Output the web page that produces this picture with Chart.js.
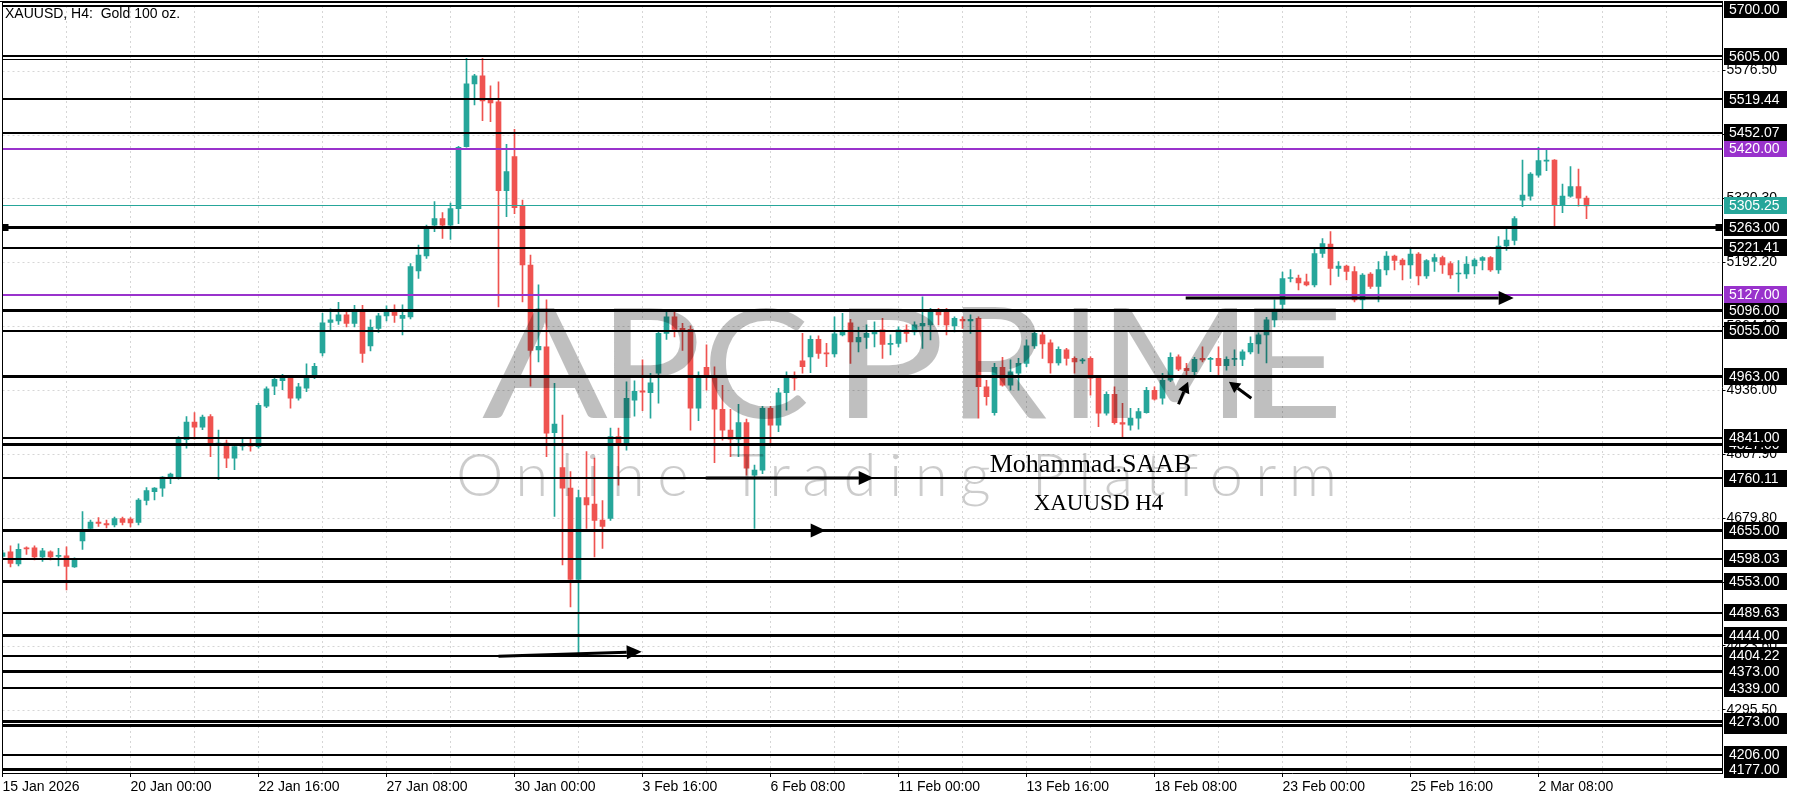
<!DOCTYPE html>
<html><head><meta charset="utf-8">
<script src="https://cdn.jsdelivr.net/npm/chart.js@4.4.1/dist/chart.umd.min.js"></script>
<style>html,body{margin:0;padding:0;background:#fff;}canvas{display:block;}</style>
</head><body>
<canvas id="c" width="1800" height="800"></canvas>
<script>
// ---------- DATA ----------
const chartTitle = 'XAUUSD, H4:  Gold 100 oz.';
const opens = [
4603,4612,4588,4620,4620,4602,4612,4603,4604,4582,
4634,4659,4672,4669,4666,4679,4678,4671,4715,4733,
4740,4763,4762,4837,4872,4862,4883,4828,4830,4800,
4824,4826,4823,4904,4944,4955,4962,4920,4940,4966,
5011,5072,5075,5087,5070,5098,5025,5060,5085,5097,
5080,5083,5175,5205,5267,5280,5267,5300,5424,5550,
5566,5518,5514,5336,5404,5305,5187,5017,5023,4851,
4781,4740,4557,4721,4708,4676,4679,4843,4828,4916,
4935,4931,4970,5050,5083,5060,5058,4900,4982,4962,
4898,4856,4838,4871,4766,4776,4900,4866,4931,4963,
4995,5003,5038,5011,5009,5047,5071,5033,5042,5049,
5057,5028,5030,5057,5053,5065,5067,5095,5097,5065,
5078,5075,5080,4943,4891,4982,4946,4970,4990,5025,
5047,5031,4991,5017,5000,4995,5000,4960,4890,4928,
4871,4866,4880,4891,4936,4920,4956,5003,4980,4973,
5000,4998,5000,4985,4998,4998,5013,5029,5047,5077,
5108,5160,5161,5153,5147,5210,5229,5180,5185,5174,
5117,5169,5144,5177,5205,5197,5187,5209,5165,5194,
5202,5190,5169,5169,5185,5196,5202,5177,5225,5236,
5317,5325,5367,5395,5397,5307,5325,5344,5321];
const highs = [
4615,4624,4628,4622,4624,4619,4614,4619,4622,4600,
4693,4676,4681,4676,4682,4682,4681,4719,4741,4741,
4763,4770,4843,4883,4891,4886,4887,4856,4836,4826,
4840,4838,4910,4943,4965,4968,4966,4950,4989,4990,
5090,5099,5112,5093,5106,5106,5077,5090,5105,5107,
5107,5190,5227,5267,5314,5292,5311,5425,5601,5569,
5601,5546,5554,5429,5459,5317,5207,5147,5117,4950,
4886,4773,4736,4813,4800,4715,4860,4860,4953,4955,
4997,4970,5055,5093,5095,5070,5065,4973,5027,4983,
4946,4898,4908,4878,4786,4904,4904,4940,4973,4973,
5050,5045,5045,5030,5083,5090,5078,5062,5067,5073,
5080,5047,5063,5067,5073,5123,5100,5100,5100,5083,
5083,5087,5083,4956,4990,5002,4997,5000,5037,5053,
5053,5037,5023,5020,5003,5000,5003,4963,4933,4943,
4910,4900,4900,4942,4943,4970,5011,5007,4990,5002,
5023,5002,5023,5003,5017,5017,5043,5051,5082,5117,
5173,5178,5167,5169,5220,5240,5254,5194,5187,5184,
5170,5172,5194,5214,5207,5200,5222,5212,5198,5209,
5205,5194,5196,5204,5200,5204,5204,5244,5263,5284,
5397,5372,5423,5419,5398,5349,5384,5379,5325];
const lows = [
4598,4582,4584,4607,4596,4593,4596,4584,4536,4581,
4617,4657,4663,4660,4662,4666,4662,4666,4706,4716,
4723,4749,4758,4820,4838,4857,4803,4757,4781,4777,
4816,4814,4820,4901,4927,4937,4900,4916,4933,4959,
5005,5056,5068,5063,5063,4992,5015,5052,5075,5072,
5047,5079,5160,5200,5254,5240,5238,5270,5423,5508,
5476,5474,5103,5284,5290,5113,4944,4993,4803,4683,
4586,4502,4402,4659,4602,4619,4675,4746,4816,4884,
4895,4880,4910,5038,5043,5016,4856,4875,4936,4791,
4836,4803,4803,4766,4659,4769,4828,4853,4896,4936,
4970,4971,5000,4983,5003,5045,4990,5013,5020,5023,
5000,5007,5023,5033,5047,5020,5037,5067,5047,5053,
5060,5050,4880,4906,4886,4944,4936,4936,4983,5020,
5000,4970,4986,4986,4970,4990,4926,4863,4886,4868,
4843,4856,4858,4890,4916,4908,4953,4975,4966,4966,
4993,4973,4966,4976,4985,4985,5009,5010,4991,5063,
5098,5153,5137,5145,5143,5202,5147,5164,5157,5113,
5097,5140,5113,5167,5177,5157,5160,5147,5160,5174,
5170,5160,5133,5160,5169,5177,5174,5170,5216,5227,
5304,5317,5363,5376,5264,5292,5323,5305,5280];
const closes = [
4610,4589,4617,4618,4602,4614,4602,4605,4583,4598,
4656,4672,4669,4666,4679,4671,4670,4716,4735,4740,
4762,4768,4838,4872,4862,4882,4828,4830,4800,4823,
4826,4824,4906,4939,4958,4963,4920,4943,4962,4984,
5071,5077,5087,5070,5098,5010,5062,5085,5097,5086,
5086,5184,5207,5260,5280,5267,5300,5423,5550,5566,
5516,5512,5336,5374,5302,5187,5016,5024,4850,4868,
4740,4557,4721,4706,4675,4663,4843,4828,4920,4934,
4932,4951,5050,5083,5058,5055,4900,4964,4962,4898,
4856,4838,4871,4780,4776,4900,4866,4931,4962,4960,
4983,5038,5010,5009,5049,5055,5033,5042,5050,5055,
5028,5030,5057,5050,5067,5070,5095,5087,5067,5080,
5075,5078,4943,4923,4982,4946,4973,4990,5025,5050,
5029,4991,5018,5000,4993,4997,4960,4890,4928,4871,
4868,4880,4893,4936,4918,4956,5002,4978,4975,4998,
4997,5000,4985,4998,5000,5013,5030,5047,5077,5097,
5160,5161,5151,5147,5210,5230,5180,5185,5174,5117,
5167,5144,5178,5205,5196,5187,5209,5165,5196,5202,
5187,5167,5171,5189,5197,5202,5177,5225,5237,5280,
5327,5369,5396,5397,5307,5325,5344,5321,5305.25];
const xTickLabels = ['15 Jan 2026','20 Jan 00:00','22 Jan 16:00','27 Jan 08:00','30 Jan 00:00','3 Feb 16:00',
  '6 Feb 08:00','11 Feb 00:00','13 Feb 16:00','18 Feb 08:00','23 Feb 00:00','25 Feb 16:00','2 Mar 08:00'];
const yTickValues = [5576.50,5448.40,5320.30,5192.20,5064.10,4936.00,4807.90,4679.80,4551.70,4423.60,4295.50];
const levelPrices = [5712,5706,5605,5598,5519.44,5452.07,5420,5305.25,5263,5221.41,5127,5096,5055,4963,4841,4827,
  4760.11,4655,4598.03,4553,4489.63,4444,4404.22,4373,4339,4273,4265,4206,4177];
const levelLabels = [null,'5700.00','5605.00',null,'5519.44','5452.07','5420.00','5305.25','5263.00','5221.41','5127.00',
  '5096.00','5055.00','4963.00','4841.00','4827.00','4760.11','4655.00','4598.03','4553.00','4489.63','4444.00',
  '4404.22','4373.00','4339.00','4273.00','4265.00','4206.00','4177.00'];
const levelKinds = ['hair','thin','thin','hair','thin','thin','purple','bid','thick','thin','purple','thick','thin','thick',
  'thin','thick','thin','thick','thin','thick','thin','thick','thin','thick','thin','thick','thick','thin','thick'];
// arrows: from [bar, price] to [bar, price]
const arrowFrom = [[62.0,4403],[83.9,4655],[87.9,4760],[147.9,5121],[147.0,4908],[156.1,4920]];
const arrowTo   = [[79.9,4412],[102.9,4655],[108.9,4760],[188.9,5121],[148.2,4953],[153.3,4953]];
const arrowKinds = ['big','big','big','big','small','small'];
const noteTexts = ['Mohammad.SAAB','XAUUSD H4'];
const noteAnchors = [[136.0,4772],[137.0,4696]];
const markedLevel = 5263;
const watermarkMain = 'APCPRIME';
const watermarkSub = 'Online Trading Platform';

// ---------- STYLE / SETUP ----------
const N_SLOTS = 216;
const slots = Array.from({length: N_SLOTS}, (_, i) => i);
const UP = '#26a69a', DOWN = '#ef5350', PURPLE = '#9932cc';
const candleColors = opens.map((o, i) => closes[i] >= o ? UP : DOWN);
const bodies = opens.map((o, i) => [o, closes[i]]);
const wicks = lows.map((l, i) => [l, highs[i]]);
const levelStyle = {
  hair: {color: '#000', width: 1, box: '#000'},
  thin: {color: '#000', width: 2, box: '#000'},
  thick: {color: '#000', width: 3, box: '#000'},
  purple: {color: PURPLE, width: 2, box: PURPLE},
  bid: {color: UP, width: 1, box: UP}
};
const arrowStyle = {big: {w: 3, head: 15, half: 7}, small: {w: 3, head: 11, half: 6}};
const noteFonts = ['26px "Liberation Serif"', '23px "Liberation Serif"'];
const AXIS_FONT = '14px "Liberation Sans"';
const wmBoxes = [[482,608],[613,697],[710,807],[848,940],[962,1047],[1073,1088],[1113,1238],[1253,1337]];

function drawArrow(ctx, x1, y1, x2, y2, st) {
  const ang = Math.atan2(y2 - y1, x2 - x1);
  const bx = x2 - Math.cos(ang) * st.head, by = y2 - Math.sin(ang) * st.head;
  ctx.lineWidth = st.w; ctx.lineCap = 'butt';
  ctx.beginPath(); ctx.moveTo(x1, y1); ctx.lineTo(bx, by); ctx.stroke();
  const nx = -Math.sin(ang), ny = Math.cos(ang);
  ctx.beginPath();
  ctx.moveTo(x2, y2);
  ctx.lineTo(bx + nx * st.half, by + ny * st.half);
  ctx.lineTo(bx - nx * st.half, by - ny * st.half);
  ctx.closePath(); ctx.fill();
}

const overlay = {
  id: 'overlay',
  beforeDatasetsDraw(chart) {
    const {ctx, chartArea: a, scales: {x, y}} = chart;
    ctx.save();
    ctx.strokeStyle = '#d6d6d6'; ctx.lineWidth = 1; ctx.setLineDash([2, 3]);
    for (let i = 8; i < N_SLOTS; i += 8) {
      const px = Math.floor(x.getPixelForValue(i)) + 0.5;
      ctx.beginPath(); ctx.moveTo(px, a.top); ctx.lineTo(px, a.bottom); ctx.stroke();
    }
    for (const v of yTickValues) {
      const py = Math.round(y.getPixelForValue(v)) + 0.5;
      ctx.beginPath(); ctx.moveTo(a.left, py); ctx.lineTo(a.right, py); ctx.stroke();
    }
    ctx.restore();
  },
  afterDatasetsDraw(chart) {
    const {ctx, chartArea: a, scales: {x, y}} = chart;
    ctx.save();
    ctx.beginPath(); ctx.rect(a.left, a.top, a.right - a.left, a.bottom - a.top); ctx.clip();
    levelPrices.forEach((p, i) => {
      const st = levelStyle[levelKinds[i]];
      const py = y.getPixelForValue(p);
      ctx.fillStyle = st.color;
      ctx.fillRect(a.left, Math.round(py - st.width / 2), a.right - a.left, st.width);
    });
    const my = Math.round(y.getPixelForValue(markedLevel));
    ctx.fillStyle = '#000';
    ctx.fillRect(a.left, my - 3, 6, 7);
    ctx.fillRect(a.right - 7, my - 3, 7, 7);
    ctx.strokeStyle = '#000'; ctx.fillStyle = '#000';
    arrowFrom.forEach((f, i) => {
      const t = arrowTo[i];
      drawArrow(ctx, x.getPixelForValue(f[0]), y.getPixelForValue(f[1]),
        x.getPixelForValue(t[0]), y.getPixelForValue(t[1]), arrowStyle[arrowKinds[i]]);
    });
    ctx.textAlign = 'center'; ctx.textBaseline = 'alphabetic'; ctx.fillStyle = '#000';
    noteTexts.forEach((t, i) => {
      ctx.font = noteFonts[i];
      ctx.fillText(t, x.getPixelForValue(noteAnchors[i][0]), y.getPixelForValue(noteAnchors[i][1]));
    });
    // watermark
    ctx.fillStyle = 'rgba(0,0,0,0.25)';
    ctx.font = '400 152px Lato';
    ctx.textAlign = 'left';
    [...watermarkMain].forEach((ch, i) => {
      const [x0, x1] = wmBoxes[i];
      const m = ctx.measureText(ch);
      const inkW = m.actualBoundingBoxLeft + m.actualBoundingBoxRight;
      const sx = (x1 - x0) / inkW, sy = 110 / m.actualBoundingBoxAscent;
      ctx.save(); ctx.translate(x0, 418); ctx.scale(sx, sy);
      ctx.fillText(ch, m.actualBoundingBoxLeft, 0);
      ctx.restore();
    });
    ctx.font = '300 60px Lato';
    ctx.fillStyle = 'rgba(0,0,0,0.2)';
    ctx.letterSpacing = '0px';
    const m0 = ctx.measureText(watermarkSub);
    const w0 = m0.actualBoundingBoxLeft + m0.actualBoundingBoxRight;
    const sp = (873 - w0) / (watermarkSub.length - 1);
    ctx.letterSpacing = sp + 'px';
    ctx.fillText(watermarkSub, 459 + m0.actualBoundingBoxLeft, 496);
    ctx.letterSpacing = '0px';
    ctx.restore();
  },
  afterDraw(chart) {
    const {ctx, chartArea: a, scales: {y}} = chart;
    ctx.save();
    ctx.fillStyle = '#000';
    ctx.fillRect(Math.floor(a.left), a.top, 1, a.bottom - a.top);
    ctx.fillRect(0, Math.floor(a.top), a.right, 1);
    const order = levelPrices.map((p, i) => i).sort((i, j) => levelPrices[i] - levelPrices[j]);
    ctx.font = AXIS_FONT; ctx.textAlign = 'left'; ctx.textBaseline = 'middle';
    const H = 17;
    for (const i of order) {
      if (levelLabels[i] === null) continue;
      const st = levelStyle[levelKinds[i]];
      const cy = y.getPixelForValue(levelPrices[i]);
      let top = Math.round(cy - H / 2);
      top = Math.max(1, Math.min(top, 800 - H));
      ctx.fillStyle = st.box;
      ctx.fillRect(Math.ceil(a.right) + 1, top, 63, H);
      ctx.fillStyle = '#fff';
      ctx.fillText(levelLabels[i], Math.ceil(a.right) + 6, top + H / 2 + 0.5);
    }
    ctx.fillStyle = '#000'; ctx.font = AXIS_FONT; ctx.textBaseline = 'middle';
    ctx.fillText(chartTitle, 5, 14);
    ctx.restore();
  }
};

new Chart(document.getElementById('c'), {
  type: 'bar',
  data: {
    labels: slots,
    datasets: [
      {label: 'wick', data: wicks, backgroundColor: candleColors, barThickness: 1, grouped: false, borderWidth: 0, order: 2},
      {label: 'body', data: bodies, backgroundColor: candleColors, barThickness: 5, grouped: false, borderWidth: 0, minBarLength: 1, order: 1}
    ]
  },
  options: {
    responsive: false, animation: false, devicePixelRatio: 1,
    layout: {padding: {left: 2.5, top: 1, right: 0, bottom: 0}},
    plugins: {legend: {display: false}, tooltip: {enabled: false}},
    scales: {
      x: {
        type: 'category', offset: false,
        grid: {display: true, drawOnChartArea: false, drawTicks: true, tickLength: 4, color: '#000', offset: false},
        border: {display: true, color: '#000', width: 1},
        ticks: {autoSkip: false, maxRotation: 0, minRotation: 0, align: 'start', padding: 2, color: '#000',
          font: {family: 'Liberation Sans', size: 14},
          callback: (v, i) => (i % 16 === 0 && xTickLabels[i / 16] !== undefined) ? xTickLabels[i / 16] : null},
        afterFit: s => { s.height = 27; s.paddingLeft = 0; s.paddingRight = 0; }
      },
      y: {
        type: 'linear', position: 'right', min: 4169, max: 5716,
        grid: {drawOnChartArea: false, drawTicks: true, tickLength: 3, color: '#000'},
        border: {display: true, color: '#000', width: 1},
        ticks: {padding: 1, color: '#000', autoSkip: false, font: {family: 'Liberation Sans', size: 14},
          callback: v => Number(v).toFixed(2)},
        afterBuildTicks: s => { s.ticks = yTickValues.map(v => ({value: v})); },
        afterFit: s => { s.width = 77.5; s.paddingTop = 0; s.paddingBottom = 0; }
      }
    }
  },
  plugins: [overlay]
});
</script>
</body></html>
